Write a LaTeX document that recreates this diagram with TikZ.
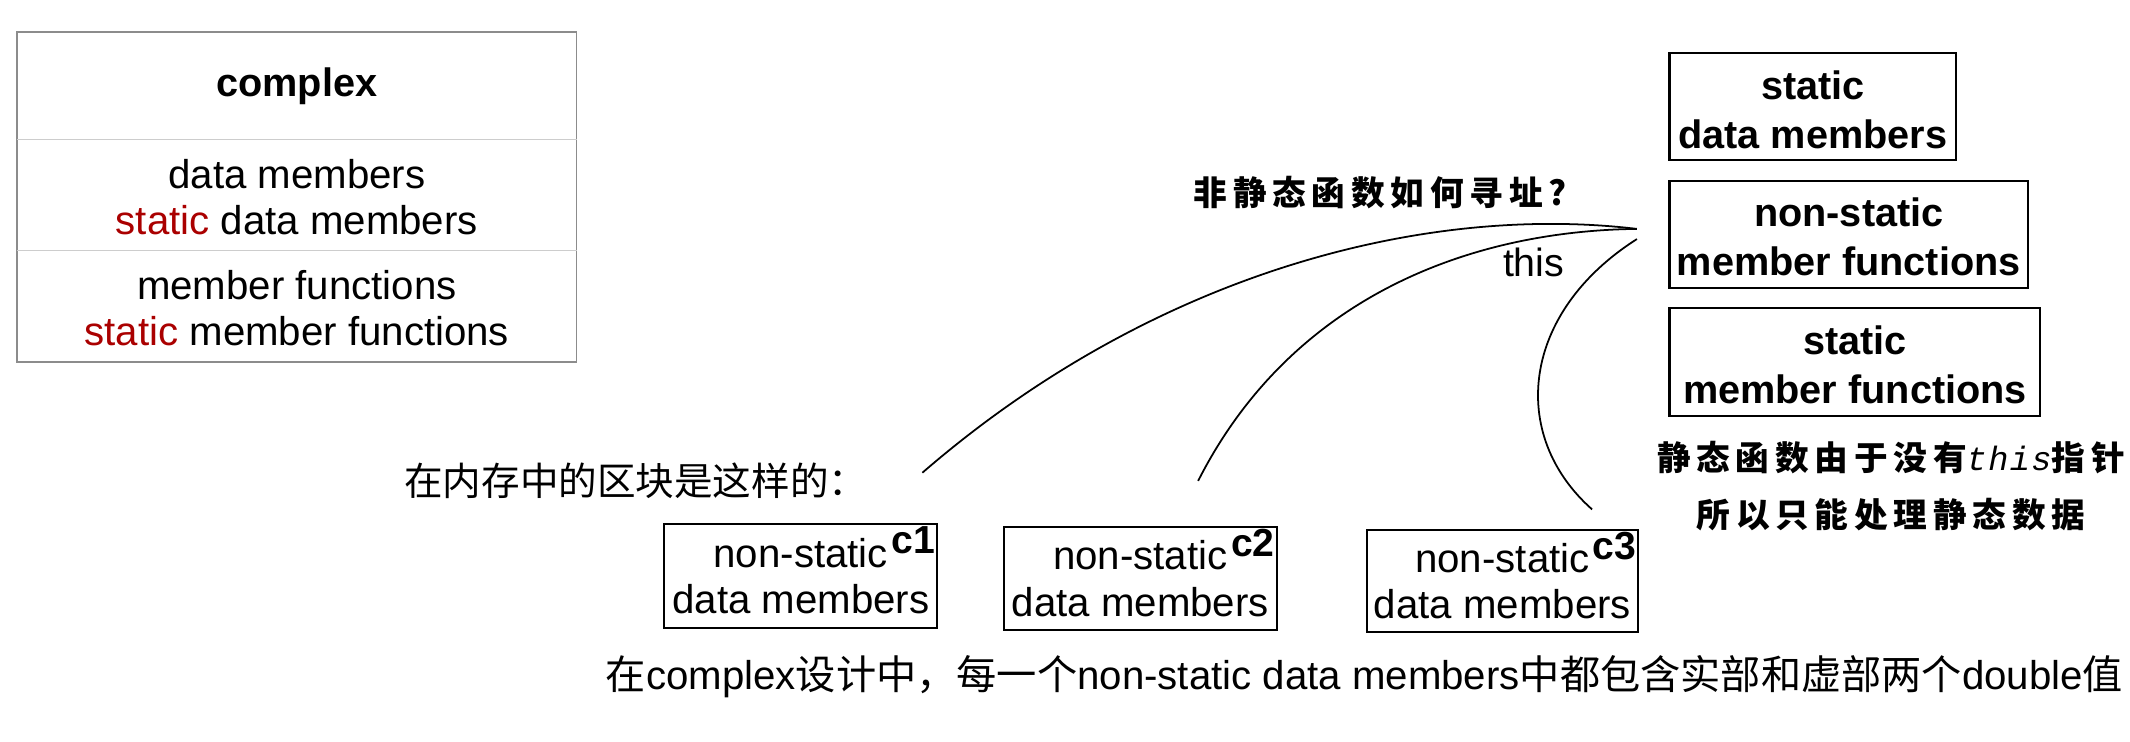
\documentclass[tikz,border=0pt]{standalone}
\usepackage{fontspec}
\setmainfont{Liberation Sans}
\newfontfamily\cjk{Noto Sans CJK SC}
\newfontfamily\cjkhand{Noto Sans CJK SC}[LetterSpace=17]
\newfontfamily\thisfont{Liberation Mono}[LetterSpace=4]
\definecolor{staticred}{RGB}{170,0,0}
\definecolor{boxgray}{RGB}{140,140,140}
\definecolor{linegray}{RGB}{205,205,205}

\begin{document}
\begin{tikzpicture}[x=0.5pt,y=0.5pt,yscale=-1,xscale=1,
  clscell/.style={inner sep=0pt,minimum width=205.5pt,align=center,font=\fontsize{14.8}{17}\selectfont},
  membox/.style={draw,line width=0.8pt,inner sep=0pt,minimum height=39.5pt,align=center,font=\bfseries\fontsize{14.6}{18}\selectfont},
  objbox/.style={draw,line width=0.8pt,inner sep=0pt,minimum width=100.5pt,minimum height=38pt,align=center,font=\fontsize{14.8}{17}\selectfont},
  objtag/.style={anchor=north east,inner sep=1pt,font=\bfseries\fontsize{14.4}{15}\selectfont},
  note/.style={align=center,font=\cjkhand\bfseries\fontsize{12.4}{21}\selectfont},
  link/.style={line width=0.65pt}]
\useasboundingbox (0,0) rectangle (1568,546);

%Class box
\node (cls) at (218.5,63.5) [clscell,minimum height=39.5pt,font=\bfseries\fontsize{14.6}{17}\selectfont] {complex};
\node (clsdata) at (218.5,144) [clscell,minimum height=41pt] {\strut data members\\\textcolor{staticred}{static} data members};
\node (clsfunc) at (218.5,225.5) [clscell,minimum height=40.5pt] {\strut member functions\\\textcolor{staticred}{static} member functions};
\draw [boxgray,line width=0.6pt] (cls.north west) rectangle (clsfunc.south east);
\draw [linegray,line width=0.5pt] (clsdata.north west) -- (clsdata.north east);
\draw [linegray,line width=0.5pt] (clsfunc.north west) -- (clsfunc.north east);

%Member boxes
\node (sdm) at (1334.5,78.5) [membox,minimum width=105.5pt] {\strut static\\data members};
\node (nsmf) at (1361,172.5) [membox,minimum width=132pt] {\strut non-static\\member functions};
\node (smf) at (1365.5,266.5) [membox,minimum width=136.5pt] {\strut static\\ member functions};

%Object boxes
\node (c1) at (589.5,424) [objbox] {non-static\\data members};
\node (c2) at (839.5,426) [objbox] {non-static\\data members};
\node (c3) at (1106,427.5) [objbox,minimum width=100pt,minimum height=37.5pt] {non-static\\data members};
\node (c1tag) at (c1.north east) [objtag] {c1};
\node (c2tag) at (c2.north east) [objtag] {c2};
\node (c3tag) at (c3.north east) [objtag] {c3};

%Curve Lines
\coordinate (ptr) at (1205,168.5);
\coordinate (ptrlow) at (1205,176);
\coordinate (c1end) at (679,348);
\coordinate (c2end) at (882,354);
\coordinate (c3end) at (1172,375);
\draw [link] (ptr) .. controls (1050,150) and (850,200) .. (c1end);
\draw [link] (ptr) .. controls (1080,170) and (950,220) .. (c2end);
\draw [link] (ptrlow) .. controls (1120,230) and (1110,320) .. (c3end);

% Text Node
\node (ask) at (1016,142) [note] {非静态函数如何寻址?};
% Text Node
\node (thislbl) at (1129,193) [font=\fontsize{14.5}{17}\selectfont] {this};
% Text Node
\node (mem) at (468,354) [font=\cjk\fontsize{14.2}{17}\selectfont] {在内存中的区块是这样的：};
% Text Node
\node (staticnote) at (1392,358) [note] {静态函数由于没有{\thisfont\mdseries\itshape this}指针\\所以只能处理静态数据};
% Text Node
\node (design) at (1004.5,498) [font=\fontsize{14.8}{17}\selectfont] {{\cjk 在}complex{\cjk 设计中，每一个}non-static data members{\cjk 中都包含实部和虚部两个}double{\cjk 值}};

\end{tikzpicture}
\end{document}
